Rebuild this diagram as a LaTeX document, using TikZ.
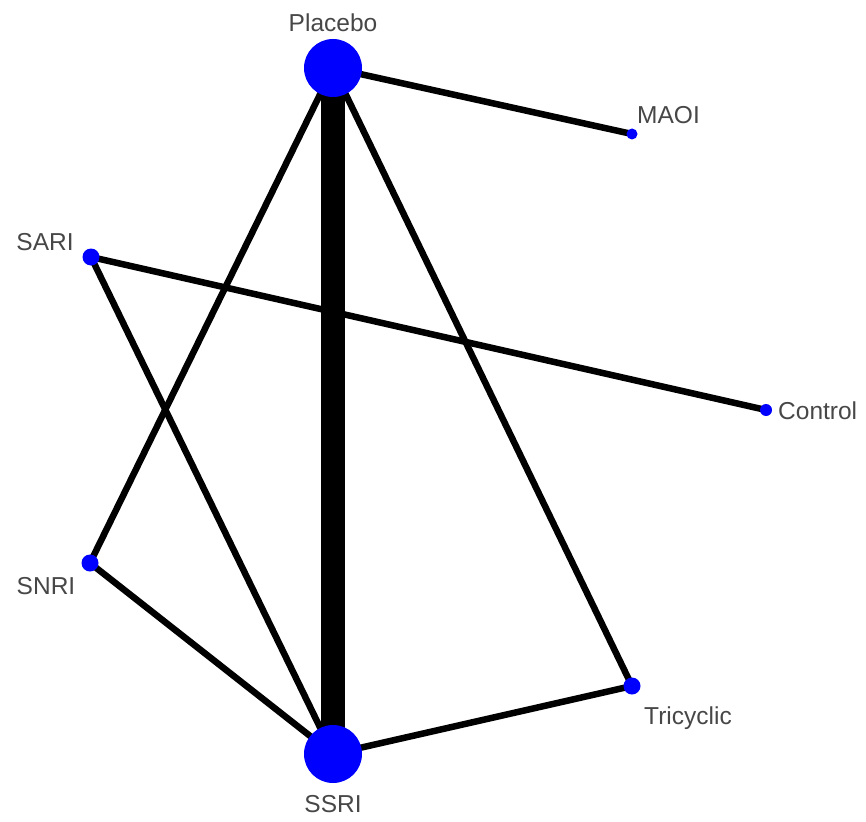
\documentclass[tikz,border=0pt]{standalone}
\usepackage{fontspec}
\setmainfont{Liberation Sans}
\usetikzlibrary{backgrounds}
\tikzset{
  drug/.style={circle, fill=blue, draw=none, inner sep=0pt, minimum size=#1},
  drug/.default=12pt,
  tag/.style={inner sep=0pt, anchor=base, text=black!72, font=\fontsize{24.5}{29}\selectfont},
  link/.style={line width=6.5pt, black},
}
\begin{document}
\begin{tikzpicture}[x=1pt, y=-1pt]
\useasboundingbox (0,0) rectangle (866,821);

% treatments
\node[drug=58pt] (placebo) at (333, 68) {};
\node[drug=58pt] (ssri) at (333, 754) {};
\node[drug=11pt] (maoi) at (632, 134) {};
\node[drug=17pt] (sari) at (91, 257) {};
\node[drug=12pt] (control) at (766, 410) {};
\node[drug=17pt] (snri) at (90, 563) {};
\node[drug=17pt] (tricyclic) at (632, 686) {};

% names
\node[tag] (placebo-name) at (333, 32) {Placebo};
\node[tag, anchor=base west] (maoi-name) at (637, 124) {MAOI};
\node[tag] (sari-name) at (45, 250) {SARI};
\node[tag, anchor=base west] (control-name) at (778, 419) {Control};
\node[tag] (snri-name) at (46, 594) {SNRI};
\node[tag] (tricyclic-name) at (688, 724) {Tricyclic};
\node[tag] (ssri-name) at (333, 812) {SSRI};

% comparisons
\begin{pgfonlayer}{background}
\draw[link, line width=24pt] (placebo.center) -- (ssri.center);
\draw[link] (placebo.center) -- (maoi.center);
\draw[link] (placebo.center) -- (snri.center);
\draw[link] (placebo.center) -- (tricyclic.center);
\draw[link] (sari.center) -- (control.center);
\draw[link] (sari.center) -- (ssri.center);
\draw[link] (snri.center) -- (ssri.center);
\draw[link] (ssri.center) -- (tricyclic.center);
\end{pgfonlayer}

\end{tikzpicture}
\end{document}
